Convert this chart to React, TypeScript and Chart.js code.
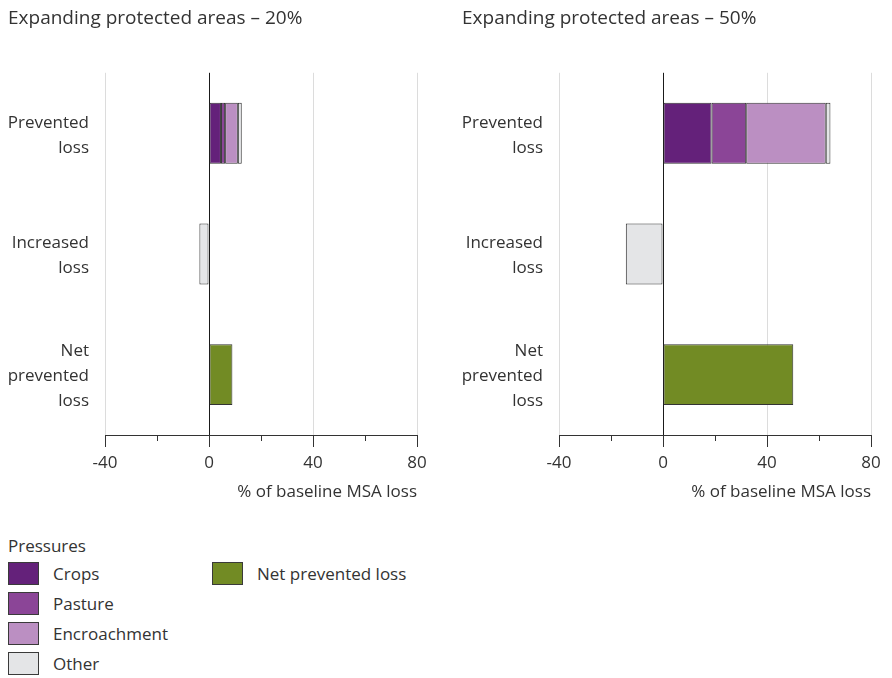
import React, { useEffect, useRef } from "react";
import { Chart, registerables } from "chart.js";
Chart.register(...registerables);

const FONT = "'Open Sans', 'DejaVu Sans', sans-serif";
const TEXT = "#333333";

const categories = [["Prevented", "loss"], ["Increased", "loss"], ["Net", "prevented", "loss"]];
const seriesNames = ["Crops", "Pasture", "Encroachment", "Other", "Net prevented loss"];
const seriesColors = ["#64217a", "#8b4597", "#bb8fc2", "#e4e5e7", "#728b24"];

// Expanding protected areas – 20%
const crops20 = [4.6, null, null];
const pasture20 = [1.6, null, null];
const encroach20 = [4.9, null, null];
const other20 = [1.5, -3.7, null];
const net20 = [null, null, 9.0];

// Expanding protected areas – 50%
const crops50 = [18.7, null, null];
const pasture50 = [13.3, null, null];
const encroach50 = [30.6, null, null];
const other50 = [1.8, -14.3, null];
const net50 = [null, null, 50.1];

const xTicks = [-40, 0, 40, 80];
const xMin = -40;
const xMax = 80;
const xTitle = "% of baseline MSA loss";
const legendTitle = "Pressures";

const minorTicks = {
  id: "minorTicks",
  afterDraw(chart: any) {
    const s = chart.scales.x;
    const ctx = chart.ctx;
    const t = s.ticks;
    ctx.save();
    ctx.strokeStyle = "#333";
    ctx.lineWidth = 1;
    for (let i = 0; i < t.length - 1; i++) {
      const v = (t[i].value + t[i + 1].value) / 2;
      const x = Math.round(s.getPixelForValue(v)) + 0.5;
      ctx.beginPath();
      ctx.moveTo(x, s.top);
      ctx.lineTo(x, s.top + 6);
      ctx.stroke();
    }
    ctx.restore();
  },
};

function Panel(props: { title: string; series: (number | null)[][]; width: number; padRight: number; left: number }) {
  const ref = useRef<HTMLCanvasElement>(null);
  useEffect(() => {
    if (!ref.current) return;
    const chart = new Chart(ref.current, {
      type: "bar",
      data: {
        labels: categories,
        datasets: props.series.map((d, i) => ({
          label: seriesNames[i],
          data: d,
          backgroundColor: seriesColors[i],
          borderColor: "#333333",
          borderWidth: 1,
          borderSkipped: false,
          categoryPercentage: 1,
          barPercentage: 0.505,
        })),
      },
      options: {
        indexAxis: "y",
        animation: false,
        responsive: false,
        maintainAspectRatio: false,
        layout: { padding: { left: 0, right: props.padRight, top: 0, bottom: 0 } },
        plugins: {
          legend: { display: false },
          tooltip: { enabled: false },
          title: {
            display: true,
            text: props.title,
            align: "start",
            color: TEXT,
            font: { family: FONT, size: 19, weight: "normal", lineHeight: 1.2 },
            padding: { top: 7, bottom: 43 },
          },
        },
        scales: {
          x: {
            type: "linear",
            stacked: true,
            min: xMin,
            max: xMax,
            afterBuildTicks: (s: any) => {
              s.ticks = xTicks.map((v) => ({ value: v }));
            },
            grid: {
              color: (ctx: any) => (ctx.tick && ctx.tick.value === 0 ? "#1a1a1a" : "#dcdcdc"),
              tickColor: "#333333",
              tickLength: 12,
              drawTicks: true,
            },
            border: { display: true, color: "#333333" },
            ticks: { color: TEXT, font: { family: FONT, size: 17 }, padding: 6 },
            title: {
              display: true,
              text: xTitle,
              align: "end",
              color: TEXT,
              font: { family: FONT, size: 17 },
              padding: { top: 0, bottom: 8 },
            },
            afterFit: (s: any) => {
              s.height = 75;
            },
          },
          y: {
            stacked: true,
            grid: { display: false, drawTicks: false },
            border: { display: false },
            ticks: {
              color: TEXT,
              font: { family: FONT, size: 17, lineHeight: "25px" },
              padding: 16,
              labelOffset: 2,
            },
            afterFit: (s: any) => {
              s.width = 97;
            },
          },
        },
      } as any,
      plugins: [minorTicks],
    });
    return () => chart.destroy();
  }, []);
  return (
    <canvas
      ref={ref}
      width={props.width}
      height={510}
      style={{ position: "absolute", left: props.left, top: 0, width: props.width, height: 510 }}
    />
  );
}

function LegendBox(props: { x: number; y: number; color: string; label: string }) {
  return (
    <>
      <div
        style={{
          position: "absolute",
          left: props.x,
          top: props.y,
          width: 29,
          height: 21,
          background: props.color,
          border: "1px solid #3a3a3a",
        }}
      />
      <div
        style={{
          position: "absolute",
          left: props.x + 45,
          top: props.y,
          height: 23,
          lineHeight: "23px",
          fontFamily: FONT,
          fontSize: 17,
          color: TEXT,
          whiteSpace: "nowrap",
        }}
      >
        {props.label}
      </div>
    </>
  );
}

export default function App() {
  return (
    <div style={{ position: "absolute", left: 0, top: 0, width: 892, height: 678, background: "#fff", overflow: "hidden" }}>
      <Panel
        title="Expanding protected areas – 20%"
        series={[crops20, pasture20, encroach20, other20, net20]}
        width={446}
        padRight={37}
        left={8}
      />
      <Panel
        title="Expanding protected areas – 50%"
        series={[crops50, pasture50, encroach50, other50, net50]}
        width={430}
        padRight={21}
        left={462}
      />
      <div
        style={{
          position: "absolute",
          left: 8,
          top: 535,
          lineHeight: "22px",
          fontFamily: FONT,
          fontSize: 17,
          color: TEXT,
        }}
      >
        {legendTitle}
      </div>
      {seriesNames.slice(0, 4).map((n, i) => (
        <LegendBox key={n} x={8} y={562 + i * 30} color={seriesColors[i]} label={n} />
      ))}
      <LegendBox x={212} y={562} color={seriesColors[4]} label={seriesNames[4]} />
    </div>
  );
}
